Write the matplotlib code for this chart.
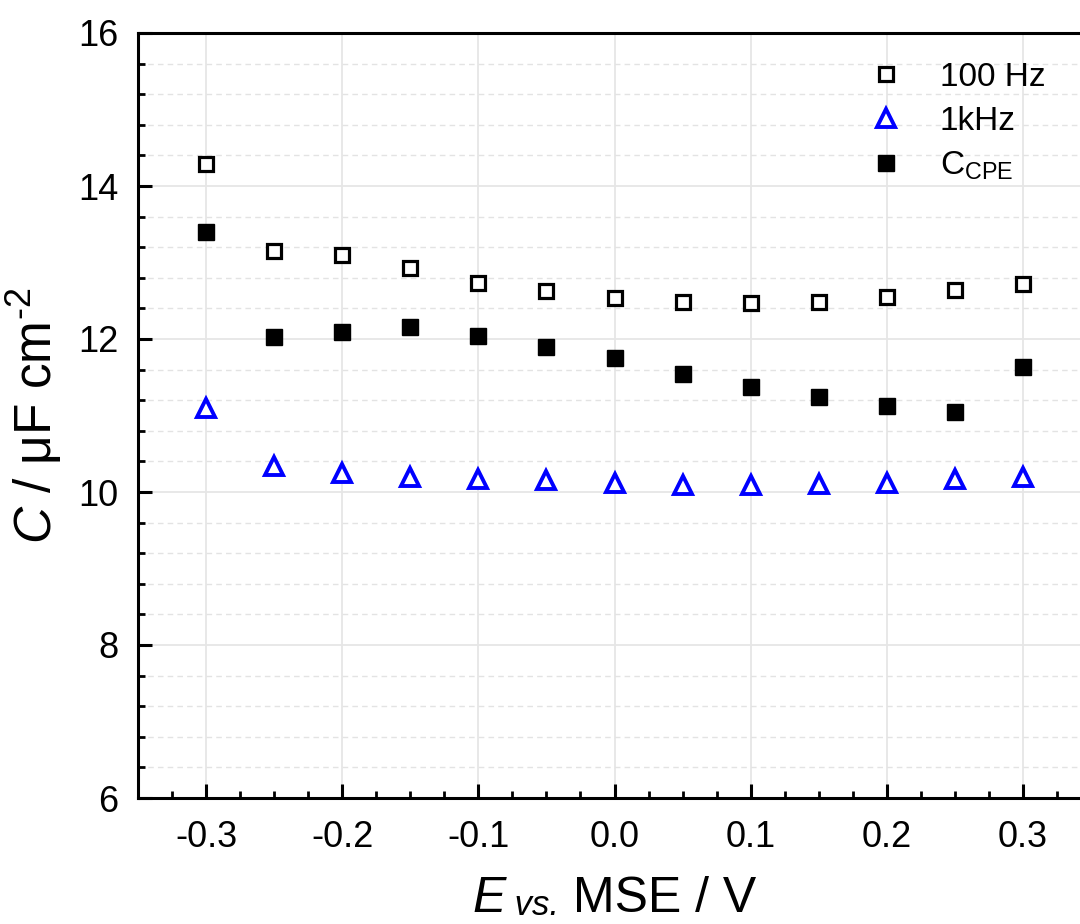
import matplotlib
matplotlib.use('Agg')
import matplotlib.pyplot as plt
from matplotlib.ticker import MultipleLocator

plt.rcParams['font.family'] = ['Liberation Sans', 'DejaVu Sans']
plt.rcParams['mathtext.fontset'] = 'custom'
plt.rcParams['mathtext.rm'] = 'Liberation Sans'
plt.rcParams['mathtext.it'] = 'Liberation Sans:italic'

# potential vs. MSE (V)
potential = [-0.30, -0.25, -0.20, -0.15, -0.10, -0.05, 0.00, 0.05, 0.10, 0.15, 0.20, 0.25, 0.30]

# capacitance (uF cm-2)
c_100hz = [14.29, 13.15, 13.10, 12.93, 12.73, 12.63, 12.54, 12.48, 12.47, 12.48, 12.55, 12.64, 12.72]
c_1khz = [11.10, 10.34, 10.25, 10.20, 10.17, 10.16, 10.12, 10.09, 10.09, 10.10, 10.12, 10.17, 10.20]
c_cpe = [13.40, 12.03, 12.09, 12.16, 12.04, 11.90, 11.75, 11.54, 11.37, 11.24, 11.12, 11.05, 11.63]

x_ticks = [-0.3, -0.2, -0.1, 0.0, 0.1, 0.2, 0.3]
y_ticks = [6, 8, 10, 12, 14, 16]

fig = plt.figure(figsize=(10.8, 9.24), dpi=100)
# right edge of the frame sits just outside the picture
ax = fig.add_axes([138 / 1080, 1 - 798 / 924, (1091 - 138) / 1080, (798 - 33) / 924])

ax.plot(potential, c_100hz, linestyle='none', marker='s', markersize=10,
        markerfacecolor='white', markeredgecolor='black', markeredgewidth=2.3, label='100 Hz')
ax.plot(potential, c_1khz, linestyle='none', marker='^', markersize=13.5,
        markerfacecolor='white', markeredgecolor='#0000ff', markeredgewidth=2.8, label='1kHz')
ax.plot(potential, c_cpe, linestyle='none', marker='s', markersize=11.2,
        color='black', label=r'C$_{\mathrm{CPE}}$')

ax.set_xlim(-0.35, 0.35)
ax.set_ylim(6, 16)
ax.set_xticks(x_ticks)
ax.set_xticklabels([f'{v:.1f}' for v in x_ticks])
ax.set_yticks(y_ticks)
ax.xaxis.set_minor_locator(MultipleLocator(0.025))
ax.yaxis.set_minor_locator(MultipleLocator(0.4))

ax.grid(True, which='major', color='#e6e6e6', linewidth=1.3, linestyle='-')
ax.yaxis.grid(True, which='minor', color='#e3e3e3', linewidth=1.0, linestyle=(0, (4, 3)))
ax.set_axisbelow(True)

for s in ax.spines.values():
    s.set_linewidth(2.2)
ax.tick_params(which='major', direction='in', length=10, width=2.2, labelsize=26, pad=14)
ax.tick_params(which='minor', direction='in', length=5, width=2.0)
ax.tick_params(axis='x', which='major', pad=16)

ax.set_ylabel(r'$C$ / μF cm$^{\text{-}2}$', fontsize=37, labelpad=10)

# x label with a smaller italic "vs."
t1 = fig.text(472 / 1080, 0.002, 'E', fontsize=36, style='italic', va='bottom')
t2 = ax.annotate(' vs.', xy=(1, 0), xycoords=t1, fontsize=25, style='italic', va='bottom')
ax.annotate(' MSE / V', xy=(1, 0), xycoords=t2, fontsize=36, va='bottom')

leg = ax.legend(loc='upper left', bbox_to_anchor=(853 / 1080, 1 - 62 / 924),
                bbox_transform=fig.transFigure, frameon=False, fontsize=24,
                handletextpad=0.6, labelspacing=0.38, borderaxespad=0, borderpad=0)

fig.savefig('out.png', dpi=100)
